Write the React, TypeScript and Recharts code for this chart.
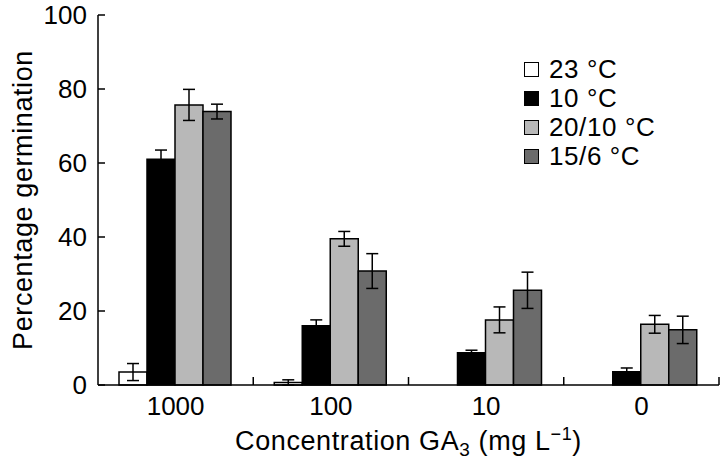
import React from 'react';
import { BarChart, Bar, XAxis, YAxis, ErrorBar, Legend, Label } from 'recharts';

// GA3 concentration (mg/L) on the x axis
const categories = ['1000', '100', '10', '0'];

// mean germination (%) per temperature regime
const t23 = [3.5, 0.7, null, null];
const t10 = [61, 16, 8.7, 3.6];
const t2010 = [75.7, 39.5, 17.6, 16.4];
const t156 = [73.9, 30.8, 25.6, 14.9];

// error bar half-lengths
const t23Err = [2.3, 0.7, null, null];
const t10Err = [2.5, 1.6, 0.7, 1];
const t2010Err = [4.2, 2, 3.5, 2.4];
const t156Err = [2, 4.7, 4.9, 3.7];

const yTicks = [0, 20, 40, 60, 80, 100];

const series = [
  { key: 't23', err: 'e23', name: '23 °C', fill: '#ffffff' },
  { key: 't10', err: 'e10', name: '10 °C', fill: '#000000' },
  { key: 't2010', err: 'e2010', name: '20/10 °C', fill: '#b8b8b8' },
  { key: 't156', err: 'e156', name: '15/6 °C', fill: '#6b6b6b' },
];

const data = categories.map((c, i) => ({
  conc: c,
  t23: t23[i],
  e23: t23Err[i],
  t10: t10[i],
  e10: t10Err[i],
  t2010: t2010[i],
  e2010: t2010Err[i],
  t156: t156[i],
  e156: t156Err[i],
}));

const FONT = '"Liberation Sans", Arial, Helvetica, sans-serif';
const X_MARGIN = 12;
const Y_MARGIN = 11;
const TICK_LEN = 8;

// category label + an upward tick on the right edge of its band
function XTick(props: any) {
  const { x, y, payload } = props;
  const axisY = y - X_MARGIN;
  const edge = x + (payload.offset || 0);
  return (
    <g>
      <line x1={edge} x2={edge} y1={axisY} y2={axisY - TICK_LEN} stroke="#000" strokeWidth={1.5} />
      <text x={x} y={y} dy="0.71em" textAnchor="middle" fontSize={26} fontFamily={FONT} fill="#000">
        {payload.value}
      </text>
    </g>
  );
}

// value label + a tick pointing into the plot
function YTick(props: any) {
  const { x, y, payload } = props;
  const axisX = x + Y_MARGIN;
  return (
    <g>
      <line x1={axisX} x2={axisX + 7} y1={y} y2={y} stroke="#000" strokeWidth={1.5} />
      <text x={x} y={y} dy="0.355em" textAnchor="end" fontSize={26} fontFamily={FONT} fill="#000">
        {payload.value}
      </text>
    </g>
  );
}

// legend: small outlined squares with the temperature next to them
function TempLegend() {
  return (
    <div style={{ fontFamily: FONT, fontSize: 26, letterSpacing: 0.6, color: '#000' }}>
      {series.map((s) => (
        <div key={s.key} style={{ display: 'flex', alignItems: 'center', height: 29 }}>
          <span
            style={{
              display: 'inline-block',
              width: 13,
              height: 13,
              background: s.fill,
              border: '1.5px solid #000',
              marginRight: 10,
            }}
          />
          <span>{s.name}</span>
        </div>
      ))}
    </div>
  );
}

// x axis title with the subscript / superscript
function ConcLabel(props: any) {
  const { viewBox } = props;
  const cx = viewBox.x + viewBox.width / 2;
  return (
    <text
      x={cx}
      y={viewBox.y + 65}
      textAnchor="middle"
      fontSize={27}
      letterSpacing={0.6}
      fontFamily={FONT}
      fill="#000"
    >
      <tspan>Concentration GA</tspan>
      <tspan fontSize={19} dy={6}>3</tspan>
      <tspan dy={-6}> (mg L</tspan>
      <tspan fontSize={18} dy={-10}>−1</tspan>
      <tspan dy={10}>)</tspan>
    </text>
  );
}

export default function App() {
  return (
    <div style={{ position: 'absolute', left: 0, top: 0, width: 720, height: 471, background: '#fff' }}>
      <BarChart
        width={720}
        height={471}
        data={data}
        margin={{ top: 15, right: 1, left: 0, bottom: 0 }}
        barCategoryGap={21}
        barGap={0}
      >
        <XAxis
          dataKey="conc"
          height={86}
          tickLine={false}
          tickSize={0}
          tickMargin={X_MARGIN}
          axisLine={{ stroke: '#000', strokeWidth: 1.5 }}
          tick={<XTick />}
        >
          <Label content={<ConcLabel />} />
        </XAxis>
        <YAxis
          width={98}
          domain={[0, 100]}
          ticks={yTicks}
          tickLine={false}
          tickSize={0}
          tickMargin={Y_MARGIN}
          axisLine={{ stroke: '#000', strokeWidth: 1.5 }}
          tick={<YTick />}
          label={{
            value: 'Percentage germination',
            angle: -90,
            position: 'insideLeft',
            offset: 22,
            style: { textAnchor: 'middle', fontSize: 27, letterSpacing: 0.6, fill: '#000', fontFamily: FONT },
          }}
        />
        <Legend
          layout="vertical"
          align="center"
          verticalAlign="middle"
          content={<TempLegend />}
          wrapperStyle={{ position: 'absolute', top: 55, left: 524, width: 'auto' }}
        />
        {series.map((s) => (
          <Bar
            key={s.key}
            dataKey={s.key}
            name={s.name}
            fill={s.fill}
            stroke="#000"
            strokeWidth={1.5}
            isAnimationActive={false}
          >
            <ErrorBar dataKey={s.err} width={6} stroke="#000" strokeWidth={1.5} />
          </Bar>
        ))}
      </BarChart>
    </div>
  );
}
